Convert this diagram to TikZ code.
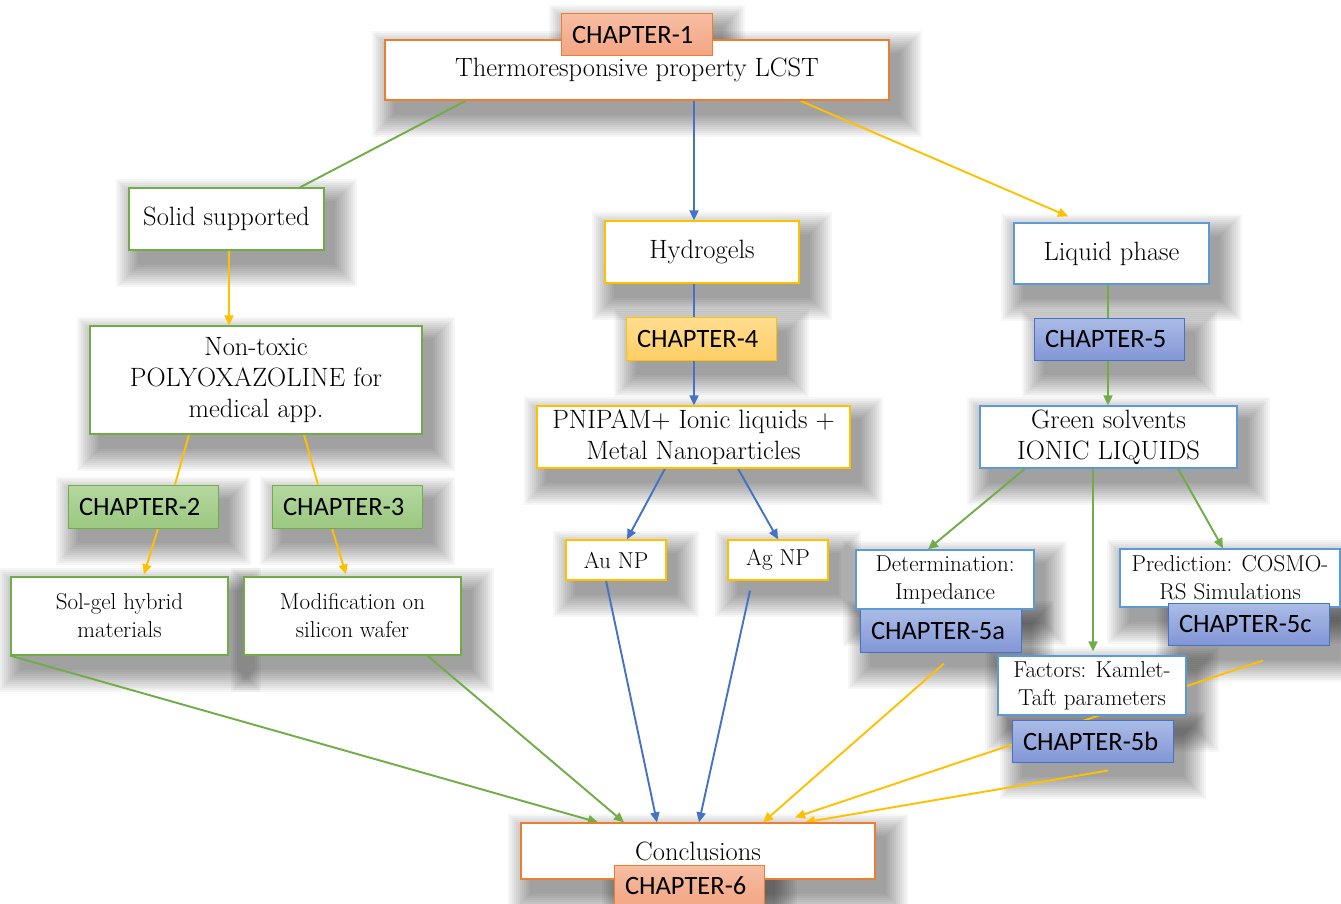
\documentclass[tikz,border=0pt]{standalone}
\usepackage{fontspec}
\newfontfamily\chapfont{Carlito}
\usetikzlibrary{arrows.meta}
\pgfdeclarelayer{bg}
\pgfdeclarelayer{mid}
\pgfsetlayers{bg,mid,main}
\definecolor{cOrange}{HTML}{ED7D31}
\definecolor{cGreen}{HTML}{70AD47}
\definecolor{cGold}{HTML}{FFC000}
\definecolor{cBlueB}{HTML}{5B9BD5}
\definecolor{cBlue}{HTML}{4472C4}
\definecolor{oTop}{HTML}{F7BDA2}
\definecolor{oBot}{HTML}{F3A583}
\definecolor{gTop}{HTML}{B4D7A0}
\definecolor{gBot}{HTML}{9BC880}
\definecolor{yTop}{HTML}{FFDD90}
\definecolor{yBot}{HTML}{FFCF66}
\definecolor{bTop}{HTML}{ABBCE6}
\definecolor{bBot}{HTML}{8296D6}
\begin{document}
\begin{tikzpicture}[x=1pt,y=-1pt,
  wh/.style 2 args={minimum width=#1pt,minimum height=#2pt},
  box/.style={draw=#1,fill=white,line width=1.3pt,align=center,inner sep=1pt,
    font=\fontsize{26.5}{31}\selectfont},
  sbox/.style={box=#1,font=\fontsize{23}{28}\selectfont},
  chap/.style n args={3}{draw=#1,top color=#2,bottom color=#3,line width=1pt,
    font=\chapfont\fontsize{26.5}{30}\selectfont,align=left,inner xsep=11pt,inner ysep=0pt},
  chapA/.style={minimum width=150pt,text width=128pt,minimum height=43pt},
  chapB/.style={minimum width=161pt,text width=139pt,minimum height=42pt},
  shadlayer/.style={fill=black,opacity=0.037},
  tip/.style={-{Triangle[length=10pt,width=9pt]}},
  gl/.style={draw=cGreen,line width=1.9pt},
  yl/.style={draw=cGold,line width=1.9pt},
  bl/.style={draw=cBlue,line width=1.9pt}
]
\useasboundingbox (0,0) rectangle (1341,904);

% boxes
\node[box=cOrange,wh={504}{60}] (thermo) at (637,70) {Thermoresponsive property LCST};
\node[chap={cOrange}{oTop}{oBot},minimum width=151pt,text width=129pt,minimum height=42pt] (ch1) at (636.5,35) {CHAPTER-1};
\node[box=cGreen,wh={195}{62}] (solid) at (226.5,219) {Solid supported};
\node[box=cGold,wh={194}{62}] (hydro) at (702,252) {Hydrogels};
\node[box=cBlueB,wh={195}{61}] (liquid) at (1111.5,253.5) {Liquid phase};
\node[box=cGreen,wh={332}{108}] (nontox) at (256,380) {Non-toxic\\POLYOXAZOLINE for\\medical app.};
\node[chap={cGold}{yTop}{yBot},chapA] (ch4) at (701,338.5) {CHAPTER-4};
\node[chap={cBlue}{bTop}{bBot},chapA,minimum height=42pt] (ch5) at (1109,339) {CHAPTER-5};
\node[box=cGold,wh={313}{62}] (pnipam) at (693.5,437) {PNIPAM+ Ionic liquids +\\Metal Nanoparticles};
\node[box=cBlueB,wh={257}{62}] (green) at (1108.5,437) {Green solvents\\IONIC LIQUIDS};
\node[chap={cGreen}{gTop}{gBot},chapA] (ch2) at (143,506.5) {CHAPTER-2};
\node[chap={cGreen}{gTop}{gBot},chapA] (ch3) at (347,506.5) {CHAPTER-3};
\node[sbox=cGold,wh={100}{40}] (au) at (616,560) {Au NP};
\node[sbox=cGold,wh={100}{40}] (ag) at (778,560) {Ag NP};
\node[chap={cBlue}{bTop}{bBot},chapB,minimum height=43pt] (ch5a) at (940.5,630.5) {CHAPTER-5a};
\node[sbox=cBlueB,wh={178}{59}] (determ) at (945,579.5) {Determination:\\Impedance};
\node[sbox=cBlueB,wh={220}{58}] (predict) at (1230,578) {Prediction: COSMO-\\RS Simulations};
\node[chap={cBlue}{bTop}{bBot},chapB] (ch5c) at (1248.5,624) {CHAPTER-5c};
\node[sbox=cBlueB,wh={188}{59}] (factors) at (1092,685.5) {Factors: Kamlet-\\Taft parameters};
\node[chap={cBlue}{bTop}{bBot},chapB] (ch5b) at (1092.5,741) {CHAPTER-5b};
\node[sbox=cGreen,wh={217}{78}] (solgel) at (119.5,616) {Sol-gel hybrid\\materials};
\node[sbox=cGreen,wh={217}{78}] (modif) at (352.5,616) {Modification on\\silicon wafer};
\node[box=cOrange,wh={354}{56}] (concl) at (698,851) {Conclusions};
\node[chap={cOrange}{oTop}{oBot},minimum width=150pt,text width=128pt,minimum height=42pt] (ch6) at (689,886) {CHAPTER-6};

% shadows
\begin{pgfonlayer}{bg}
\fill[white] (0,0) rectangle (1341,904);
\foreach \n in {thermo,ch1,solid,hydro,liquid,nontox,ch4,ch5,pnipam,green,ch2,ch3,au,ag,ch5a,determ,predict,ch5c,factors,ch5b,solgel,modif,concl,ch6}{
  \foreach \r in {0,2,...,22}{
    \path[shadlayer] ([xshift={(10-\r)*1pt},yshift={(-14-\r)*1pt}]\n.south west)
      rectangle ([xshift={(10+\r)*1pt},yshift={(-14+\r)*1pt}]\n.north east);
  }
}
\end{pgfonlayer}

% connectors
\begin{pgfonlayer}{mid}
\draw[gl] ([xshift=-171pt]thermo.south) -- ([xshift=73.5pt]solid.north);
\draw[bl,tip] ([xshift=57pt]thermo.south) -- ([xshift=-8pt]hydro.north);
\draw[yl,tip] ([xshift=163pt]thermo.south) -- ([xshift=-43.5pt,yshift=6pt]liquid.north);
\draw[yl,tip] ([xshift=2.5pt]solid.south) -- ([xshift=-27pt]nontox.north);
\draw[yl] ([xshift=-67pt]nontox.south) -- ([xshift=32pt]ch2.north);
\draw[yl,tip] ([xshift=15pt]ch2.south) -- ([xshift=24.5pt,yshift=2pt]solgel.north);
\draw[yl] ([xshift=48pt]nontox.south) -- ([xshift=-29pt]ch3.north);
\draw[yl,tip] ([xshift=-15pt]ch3.south) -- ([xshift=-6.5pt,yshift=2pt]modif.north);
\draw[bl] ([xshift=-8pt]hydro.south) -- ([xshift=-7pt]ch4.north);
\draw[bl,tip] ([xshift=-7pt]ch4.south) -- ([xshift=0.5pt]pnipam.north);
\draw[bl,tip] ([xshift=-28.5pt]pnipam.south) -- ([xshift=11pt]au.north);
\draw[bl,tip] ([xshift=44.5pt]pnipam.south) -- (ag.north);
\draw[gl] ([xshift=-3.5pt]liquid.south) -- ([xshift=-1pt]ch5.north);
\draw[gl,tip] ([xshift=-1pt]ch5.south) -- ([xshift=-0.5pt]green.north);
\draw[gl,tip] ([xshift=-83.5pt]green.south) -- ([xshift=-17pt]determ.north);
\draw[gl,tip] ([xshift=-15.5pt]green.south) -- ([xshift=1pt,yshift=4pt]factors.north);
\draw[gl,tip] ([xshift=69.5pt]green.south) -- ([xshift=-7pt]predict.north);
\draw[gl,tip] (solgel.south west) -- ([xshift=-100pt]concl.north);
\draw[gl,tip] ([xshift=65.5pt,yshift=8pt]modif.south) -- ([xshift=-74pt]concl.north);
\draw[bl,tip] ([xshift=-10pt]au.south) -- ([xshift=-41pt]concl.north);
\draw[bl,tip] ([xshift=-28pt,yshift=-10pt]ag.south) -- ([xshift=1pt]concl.north);
\draw[yl,tip] ([xshift=3.5pt,yshift=-11pt]ch5a.south) -- ([xshift=65pt]concl.north);
\draw[yl,tip] ([xshift=14.5pt,yshift=-15pt]ch5c.south) -- ([xshift=97pt,yshift=5pt]concl.north);
\draw[yl,tip] ([xshift=15.5pt,yshift=-8pt]ch5b.south) -- ([xshift=107pt]concl.north);
\end{pgfonlayer}
\end{tikzpicture}
\end{document}
